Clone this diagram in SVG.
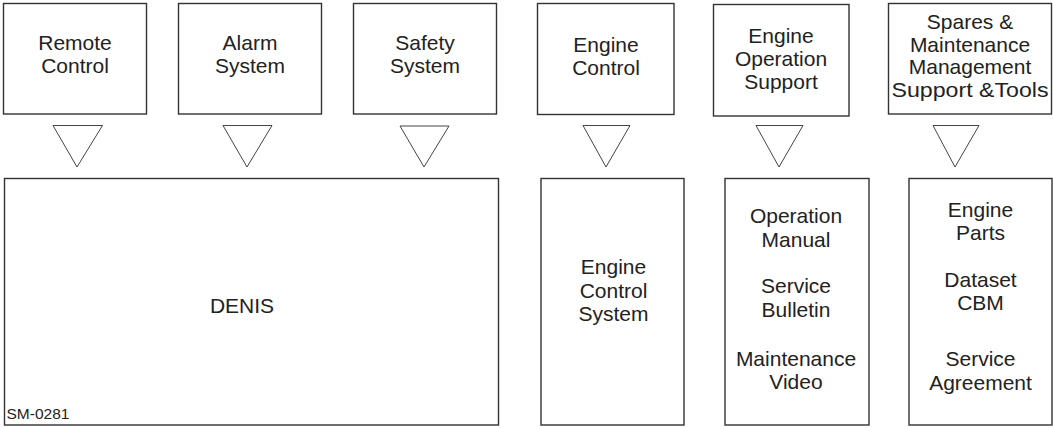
<svg xmlns="http://www.w3.org/2000/svg" width="1053" height="428" viewBox="0 0 1053 428">
<style>
.box{fill:#fff;stroke:#333;stroke-width:1.4}
.tri{fill:#fff;stroke:#444;stroke-width:1}
text{font-family:"Liberation Sans",Arial,sans-serif;font-size:21px;fill:#222;text-anchor:middle}
.small{font-size:15.5px;text-anchor:start}
</style>
<rect width="1053" height="428" fill="#fff"/>
<g id="remote-control"><rect class="box" x="3.5" y="3.5" width="143" height="110.5"/><text x="75" y="50">Remote</text><text x="75" y="73.3">Control</text></g>
<g id="alarm-system"><rect class="box" x="178.5" y="3.5" width="143" height="110.5"/><text x="250" y="50">Alarm</text><text x="250" y="73.3">System</text></g>
<g id="safety-system"><rect class="box" x="353.5" y="3.5" width="143" height="110.5"/><text x="425" y="50">Safety</text><text x="425" y="73.3">System</text></g>
<g id="engine-control"><rect class="box" x="537.5" y="3.5" width="136.5" height="111"/><text x="606" y="51.5">Engine</text><text x="606" y="74.5">Control</text></g>
<g id="engine-operation-support"><rect class="box" x="713.5" y="4.5" width="135.5" height="111.5"/><text x="781" y="42.5">Engine</text><text x="781" y="65.5">Operation</text><text x="781" y="88.8">Support</text></g>
<g id="spares-maintenance"><rect class="box" x="888.5" y="3.5" width="163" height="110.5"/><text x="970" y="29">Spares &amp;</text><text x="970" y="51.5">Maintenance</text><text x="970" y="74.3">Management</text><text x="970" y="97" textLength="157" lengthAdjust="spacingAndGlyphs">Support &amp;Tools</text></g>
<g id="denis"><rect class="box" x="4.5" y="178.5" width="494" height="246.5"/><text x="242" y="313.3">DENIS</text><text class="small" x="6.5" y="419">SM-0281</text></g>
<g id="engine-control-system"><rect class="box" x="541" y="178.5" width="143" height="246.5"/><text x="613.5" y="274">Engine</text><text x="613.5" y="297.5">Control</text><text x="613.5" y="321">System</text></g>
<g id="operation-docs"><rect class="box" x="725" y="178.5" width="144" height="246.5"/><text x="796" y="223.3">Operation</text><text x="796" y="246.7">Manual</text><text x="796" y="293.3">Service</text><text x="796" y="316.7">Bulletin</text><text x="796" y="365.7">Maintenance</text><text x="796" y="389">Video</text></g>
<g id="spares-items"><rect class="box" x="909" y="178.5" width="143" height="246.5"/><text x="980.5" y="216.7">Engine</text><text x="980.5" y="240">Parts</text><text x="980.5" y="286.7">Dataset</text><text x="980.5" y="310">CBM</text><text x="980.5" y="366">Service</text><text x="980.5" y="389.5">Agreement</text></g>
<g id="connectors">
<polygon class="tri" points="53,125.5 102.5,125.5 77,167"/>
<polygon class="tri" points="223,125.5 272,125.5 247,167"/>
<polygon class="tri" points="400,126 449,126 424,167"/>
<polygon class="tri" points="583,125.5 630,125.5 606,167"/>
<polygon class="tri" points="756,125.5 803,125.5 779,167"/>
<polygon class="tri" points="933,125.5 979,125.5 955,167"/>
</g>
</svg>
